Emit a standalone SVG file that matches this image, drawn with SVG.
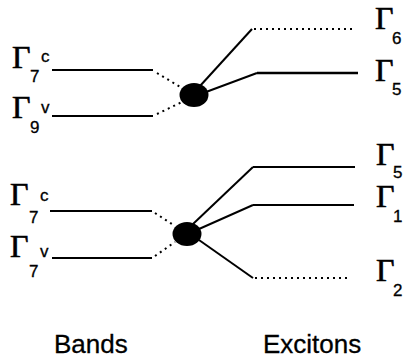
<svg xmlns="http://www.w3.org/2000/svg" width="404" height="360" viewBox="0 0 404 360">
  <style>
    .lvl { stroke: #000; stroke-width: 2; fill: none; }
    .thick { stroke: #000; stroke-width: 2.6; fill: none; }
    .dot { stroke: #000; stroke-width: 2; fill: none; stroke-dasharray: 2 4; }
    .g { font-family: "Liberation Serif", "Times New Roman", serif; font-size: 32px; fill: #000; stroke: #000; stroke-width: 0.6; }
    .s { font-family: "Liberation Sans", Arial, sans-serif; font-size: 17px; fill: #000; stroke: #000; stroke-width: 0.3; }
    .t { font-family: "Liberation Sans", Arial, sans-serif; font-size: 26px; fill: #000; stroke: #000; stroke-width: 0.3; }
  </style>

  <!-- band levels, left side -->
  <g id="band-G7c-top">
    <text class="g" x="12" y="68">Γ</text>
    <text class="s" x="30" y="82">7</text>
    <text class="s" x="41" y="62">c</text>
  </g>
  <g id="band-G9v-top">
    <text class="g" x="12" y="118">Γ</text>
    <text class="s" x="30" y="133">9</text>
    <text class="s" x="41" y="113">v</text>
  </g>
  <g id="band-G7c-bottom">
    <text class="g" x="10" y="205">Γ</text>
    <text class="s" x="29" y="223">7</text>
    <text class="s" x="40" y="201">c</text>
  </g>
  <g id="band-G7v-bottom">
    <text class="g" x="10" y="257">Γ</text>
    <text class="s" x="29" y="277">7</text>
    <text class="s" x="40" y="257">v</text>
  </g>

  <!-- exchange-interaction vertices -->
  <g id="vertex-top">
    <ellipse cx="194" cy="95" rx="14.5" ry="12" fill="#000"/>
  </g>
  <g id="vertex-bottom">
    <ellipse cx="187" cy="234" rx="14.5" ry="12" fill="#000"/>
  </g>

  <!-- exciton levels, right side -->
  <g id="exciton-G6">
    <text class="g" x="375" y="29">Γ</text>
    <text class="s" x="392" y="44">6</text>
  </g>
  <g id="exciton-G5-top">
    <text class="g" x="375" y="81">Γ</text>
    <text class="s" x="392" y="95">5</text>
  </g>
  <g id="exciton-G5-bottom">
    <text class="g" x="376" y="165">Γ</text>
    <text class="s" x="393" y="178">5</text>
  </g>
  <g id="exciton-G1">
    <text class="g" x="376" y="207">Γ</text>
    <text class="s" x="393" y="222">1</text>
  </g>
  <g id="exciton-G2">
    <text class="g" x="376" y="281">Γ</text>
    <text class="s" x="393" y="296">2</text>
  </g>

  <!-- connectors -->
  <g id="connectors">
    <!-- upper group -->
    <line class="lvl" x1="52" y1="70" x2="153" y2="70"/>
    <line class="lvl" x1="52" y1="116" x2="153" y2="116"/>
    <line class="dot" x1="157" y1="73" x2="182" y2="88"/>
    <line class="dot" x1="157" y1="114" x2="182" y2="102"/>
    <line class="lvl" x1="200" y1="86" x2="252" y2="29"/>
    <line class="dot" x1="254" y1="29" x2="352" y2="29"/>
    <line class="lvl" x1="206" y1="92" x2="257" y2="73"/>
    <line class="thick" x1="257" y1="73" x2="358" y2="73"/>
    <!-- lower group -->
    <line class="lvl" x1="50" y1="211" x2="152" y2="211"/>
    <line class="lvl" x1="52" y1="258" x2="152" y2="258"/>
    <line class="dot" x1="155" y1="213" x2="175" y2="226"/>
    <line class="dot" x1="155" y1="256" x2="175" y2="242"/>
    <line class="lvl" x1="193" y1="224" x2="253" y2="167"/>
    <line class="lvl" x1="253" y1="167" x2="355" y2="167"/>
    <line class="lvl" x1="199" y1="229" x2="253" y2="205"/>
    <line class="lvl" x1="253" y1="205" x2="354" y2="205"/>
    <line class="lvl" x1="199" y1="240" x2="253" y2="278"/>
    <line class="dot" x1="255" y1="278" x2="350" y2="278"/>
  </g>

  <!-- column captions -->
  <text class="t" x="54" y="353">Bands</text>
  <text class="t" x="263" y="353">Excitons</text>
</svg>
